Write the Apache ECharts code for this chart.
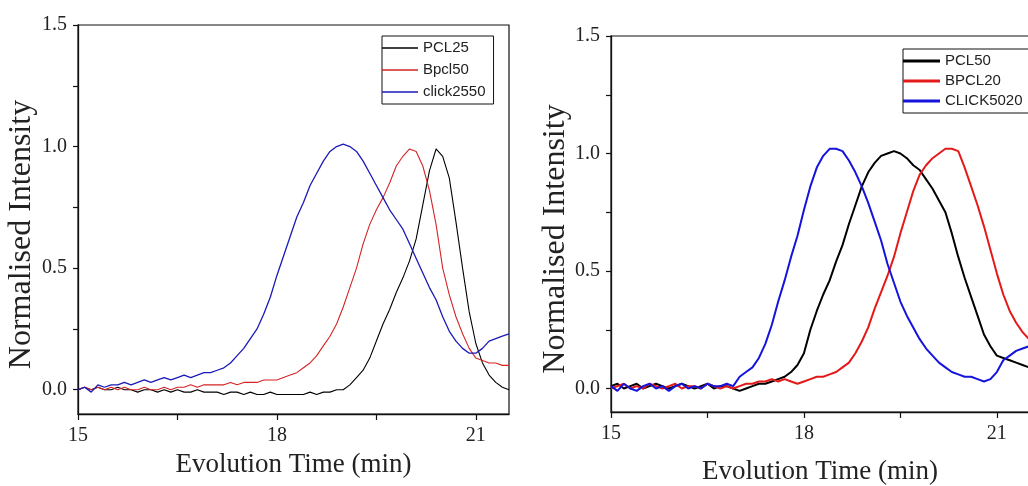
<!DOCTYPE html>
<html>
<head>
<meta charset="utf-8">
<script src="https://cdn.jsdelivr.net/npm/echarts@6/dist/echarts.min.js"></script>
<style>
html,body{margin:0;padding:0;background:#fff;}
#chart{width:1028px;height:486px;}
</style>
</head>
<body>
<div id="chart"></div>
<script>
// ---- data ----
const times = [15.0,15.1,15.2,15.3,15.4,15.5,15.6,15.7,15.8,15.9,
  16.0,16.1,16.2,16.3,16.4,16.5,16.6,16.7,16.8,16.9,
  17.0,17.1,17.2,17.3,17.4,17.5,17.6,17.7,17.8,17.9,
  18.0,18.1,18.2,18.3,18.4,18.5,18.6,18.7,18.8,18.9,
  19.0,19.1,19.2,19.3,19.4,19.5,19.6,19.7,19.8,19.9,
  20.0,20.1,20.2,20.3,20.4,20.5,20.6,20.7,20.8,20.9,
  21.0,21.1,21.2,21.3,21.4,21.5];

// left panel
const leftNames = ['PCL25','Bpcl50','click2550'];
const pcl25 = [0.00,0.01,0.00,0.01,0.00,0.00,0.01,0.00,0.00,-0.01,
  0.00,0.00,-0.01,0.00,-0.01,0.00,-0.01,-0.01,0.00,-0.01,
  -0.01,-0.01,-0.02,-0.01,-0.01,-0.02,-0.01,-0.02,-0.02,-0.01,
  -0.02,-0.02,-0.02,-0.02,-0.02,-0.01,-0.02,-0.01,-0.01,0.00,
  0.00,0.02,0.05,0.08,0.13,0.20,0.27,0.33,0.40,0.46,
  0.53,0.62,0.76,0.90,0.99,0.96,0.87,0.69,0.50,0.32,
  0.19,0.11,0.06,0.03,0.01,0.00];
const bpcl50 = [0.00,0.01,0.00,0.01,0.00,0.01,0.00,0.01,0.00,0.00,
  0.01,0.00,0.00,0.01,0.00,0.01,0.01,0.02,0.01,0.02,
  0.02,0.02,0.02,0.03,0.02,0.03,0.03,0.03,0.04,0.04,
  0.04,0.05,0.06,0.07,0.09,0.11,0.14,0.18,0.22,0.27,
  0.34,0.42,0.50,0.60,0.68,0.74,0.79,0.85,0.92,0.96,
  0.99,0.98,0.92,0.82,0.68,0.50,0.39,0.30,0.23,0.17,
  0.13,0.12,0.11,0.11,0.10,0.10];
const click2550 = [0.00,0.01,-0.01,0.02,0.01,0.02,0.02,0.03,0.02,0.03,
  0.04,0.03,0.04,0.05,0.04,0.05,0.06,0.05,0.06,0.07,
  0.07,0.08,0.09,0.11,0.14,0.17,0.21,0.25,0.31,0.38,
  0.47,0.55,0.63,0.71,0.77,0.84,0.89,0.94,0.98,1.00,
  1.01,1.00,0.98,0.94,0.89,0.84,0.79,0.74,0.70,0.66,
  0.60,0.54,0.48,0.42,0.37,0.30,0.24,0.20,0.17,0.15,
  0.15,0.17,0.20,0.21,0.22,0.23];

// right panel
const rightNames = ['PCL50','BPCL20','CLICK5020'];
const pcl50 = [0.01,0.02,0.00,0.01,0.02,0.00,0.01,0.02,0.01,0.00,
  0.01,0.02,0.01,0.00,0.01,0.02,0.00,0.01,0.01,0.00,
  -0.01,0.00,0.01,0.02,0.02,0.03,0.04,0.05,0.07,0.10,
  0.15,0.25,0.33,0.40,0.46,0.54,0.61,0.70,0.78,0.86,
  0.92,0.96,0.99,1.00,1.01,1.00,0.98,0.95,0.93,0.89,
  0.85,0.80,0.75,0.66,0.56,0.47,0.39,0.31,0.23,0.18,
  0.14,0.13,0.12,0.11,0.10,0.09];
const bpcl20 = [0.00,0.01,0.02,0.00,0.01,0.00,0.02,0.01,0.00,0.01,
  0.02,0.00,0.01,0.01,0.00,0.02,0.01,0.00,0.01,0.00,
  0.01,0.02,0.02,0.03,0.03,0.04,0.03,0.04,0.03,0.02,
  0.03,0.04,0.05,0.05,0.06,0.07,0.09,0.11,0.15,0.20,
  0.26,0.34,0.41,0.48,0.56,0.66,0.75,0.84,0.91,0.95,
  0.98,1.00,1.02,1.02,1.01,0.94,0.86,0.78,0.69,0.59,
  0.49,0.40,0.33,0.28,0.24,0.21];
const click5020 = [0.01,-0.01,0.02,0.00,-0.01,0.01,0.02,0.00,0.01,-0.01,
  0.01,0.02,0.00,0.01,0.00,0.02,0.01,0.01,0.02,0.01,
  0.05,0.07,0.09,0.13,0.19,0.27,0.37,0.46,0.56,0.65,
  0.76,0.86,0.94,0.99,1.02,1.02,1.01,0.97,0.92,0.86,
  0.79,0.71,0.63,0.53,0.45,0.37,0.31,0.26,0.21,0.17,
  0.14,0.11,0.09,0.07,0.06,0.05,0.05,0.04,0.03,0.04,
  0.07,0.12,0.14,0.16,0.17,0.18];

// axis ticks
const xTicks = [15,16.5,18,19.5,21];
const xLabels = [15,18,21];
const yTicks = [0,0.25,0.5,0.75,1.0,1.25,1.5];
const yLabels = [0,0.5,1.0,1.5];

const xTitle = 'Evolution Time (min)';
const yTitle = 'Normalised Intensity';

// ---- chart ----
const serif = '"Liberation Serif","Times New Roman",serif';
const sans = '"Liberation Sans",Arial,sans-serif';
const pair = v => times.map((t,i)=>[t, v[i]]);

function xAxis(gi, nameGap){
  return {
    type:'value', gridIndex:gi, min:15, max:21.5,
    name:xTitle, nameLocation:'middle', nameGap:nameGap,
    nameTextStyle:{fontFamily:serif,fontSize:27,color:'#222'},
    axisLine:{show:true,onZero:false,lineStyle:{color:'#111',width:1.3}},
    axisTick:{show:true,inside:false,length:6,customValues:xTicks,lineStyle:{color:'#111',width:1.2}},
    axisLabel:{customValues:xLabels,margin:12,fontFamily:serif,fontSize:20,color:'#222'},
    splitLine:{show:false}
  };
}
function yAxis(gi, nameGap){
  return {
    type:'value', gridIndex:gi, min:-0.1, max:1.5,
    name:yTitle, nameLocation:'middle', nameGap:nameGap,
    nameTextStyle:{fontFamily:serif,fontSize:32,color:'#222',padding:[0,30,0,0]},
    axisLine:{show:true,onZero:false,lineStyle:{color:'#111',width:1.3}},
    axisTick:{show:true,inside:false,length:5,customValues:yTicks,lineStyle:{color:'#111',width:1.2}},
    axisLabel:{customValues:yLabels,margin:11,fontFamily:serif,fontSize:20,color:'#222',
      formatter:v=>v.toFixed(1)},
    splitLine:{show:false}
  };
}
function line(name, data, color, gi, w){
  return {
    type:'line', name:name, xAxisIndex:gi, yAxisIndex:gi,
    data:pair(data), showSymbol:false, symbol:'none', smooth:false,
    lineStyle:{color:color,width:w}, itemStyle:{color:color},
    animation:false, clip:true
  };
}

const chart = echarts.init(document.getElementById('chart'), null, {renderer:'canvas'});
chart.setOption({
  backgroundColor:'#fff',
  animation:false,
  grid:[
    {left:78, top:25, width:431, height:389, show:true, borderColor:'#111', borderWidth:1.2,
     backgroundColor:'transparent', containLabel:false, outerBoundsMode:'none'},
    {left:611, top:36, width:418, height:376, show:true, borderColor:'#111', borderWidth:1.2,
     backgroundColor:'transparent', containLabel:false, outerBoundsMode:'none'}
  ],
  xAxis:[xAxis(0,37), xAxis(1,46)],
  yAxis:[yAxis(0,40), yAxis(1,24)],
  legend:[
    {data:leftNames, left:382, top:36, orient:'vertical', itemWidth:36, itemHeight:1.5, icon:'rect',
     itemGap:4, padding:[3,8,3,0], borderColor:'#111', borderWidth:1, backgroundColor:'#fff',
     textStyle:{fontFamily:sans,fontSize:15,color:'#222',lineHeight:18}, selectedMode:false},
    {data:rightNames, left:903, top:49, orient:'vertical', itemWidth:37, itemHeight:3, icon:'rect',
     itemGap:2, padding:[3,8,3,0], borderColor:'#111', borderWidth:1, backgroundColor:'#fff',
     textStyle:{fontFamily:sans,fontSize:15,color:'#222',lineHeight:18}, selectedMode:false}
  ],
  series:[
    line('PCL25', pcl25, '#000000', 0, 1.1),
    line('Bpcl50', bpcl50, '#d42424', 0, 1.1),
    line('click2550', click2550, '#1a1ab8', 0, 1.3),
    line('PCL50', pcl50, '#000000', 1, 2),
    line('BPCL20', bpcl20, '#e41a1a', 1, 2),
    line('CLICK5020', click5020, '#1414dc', 1, 2)
  ]
});
</script>
</body>
</html>
